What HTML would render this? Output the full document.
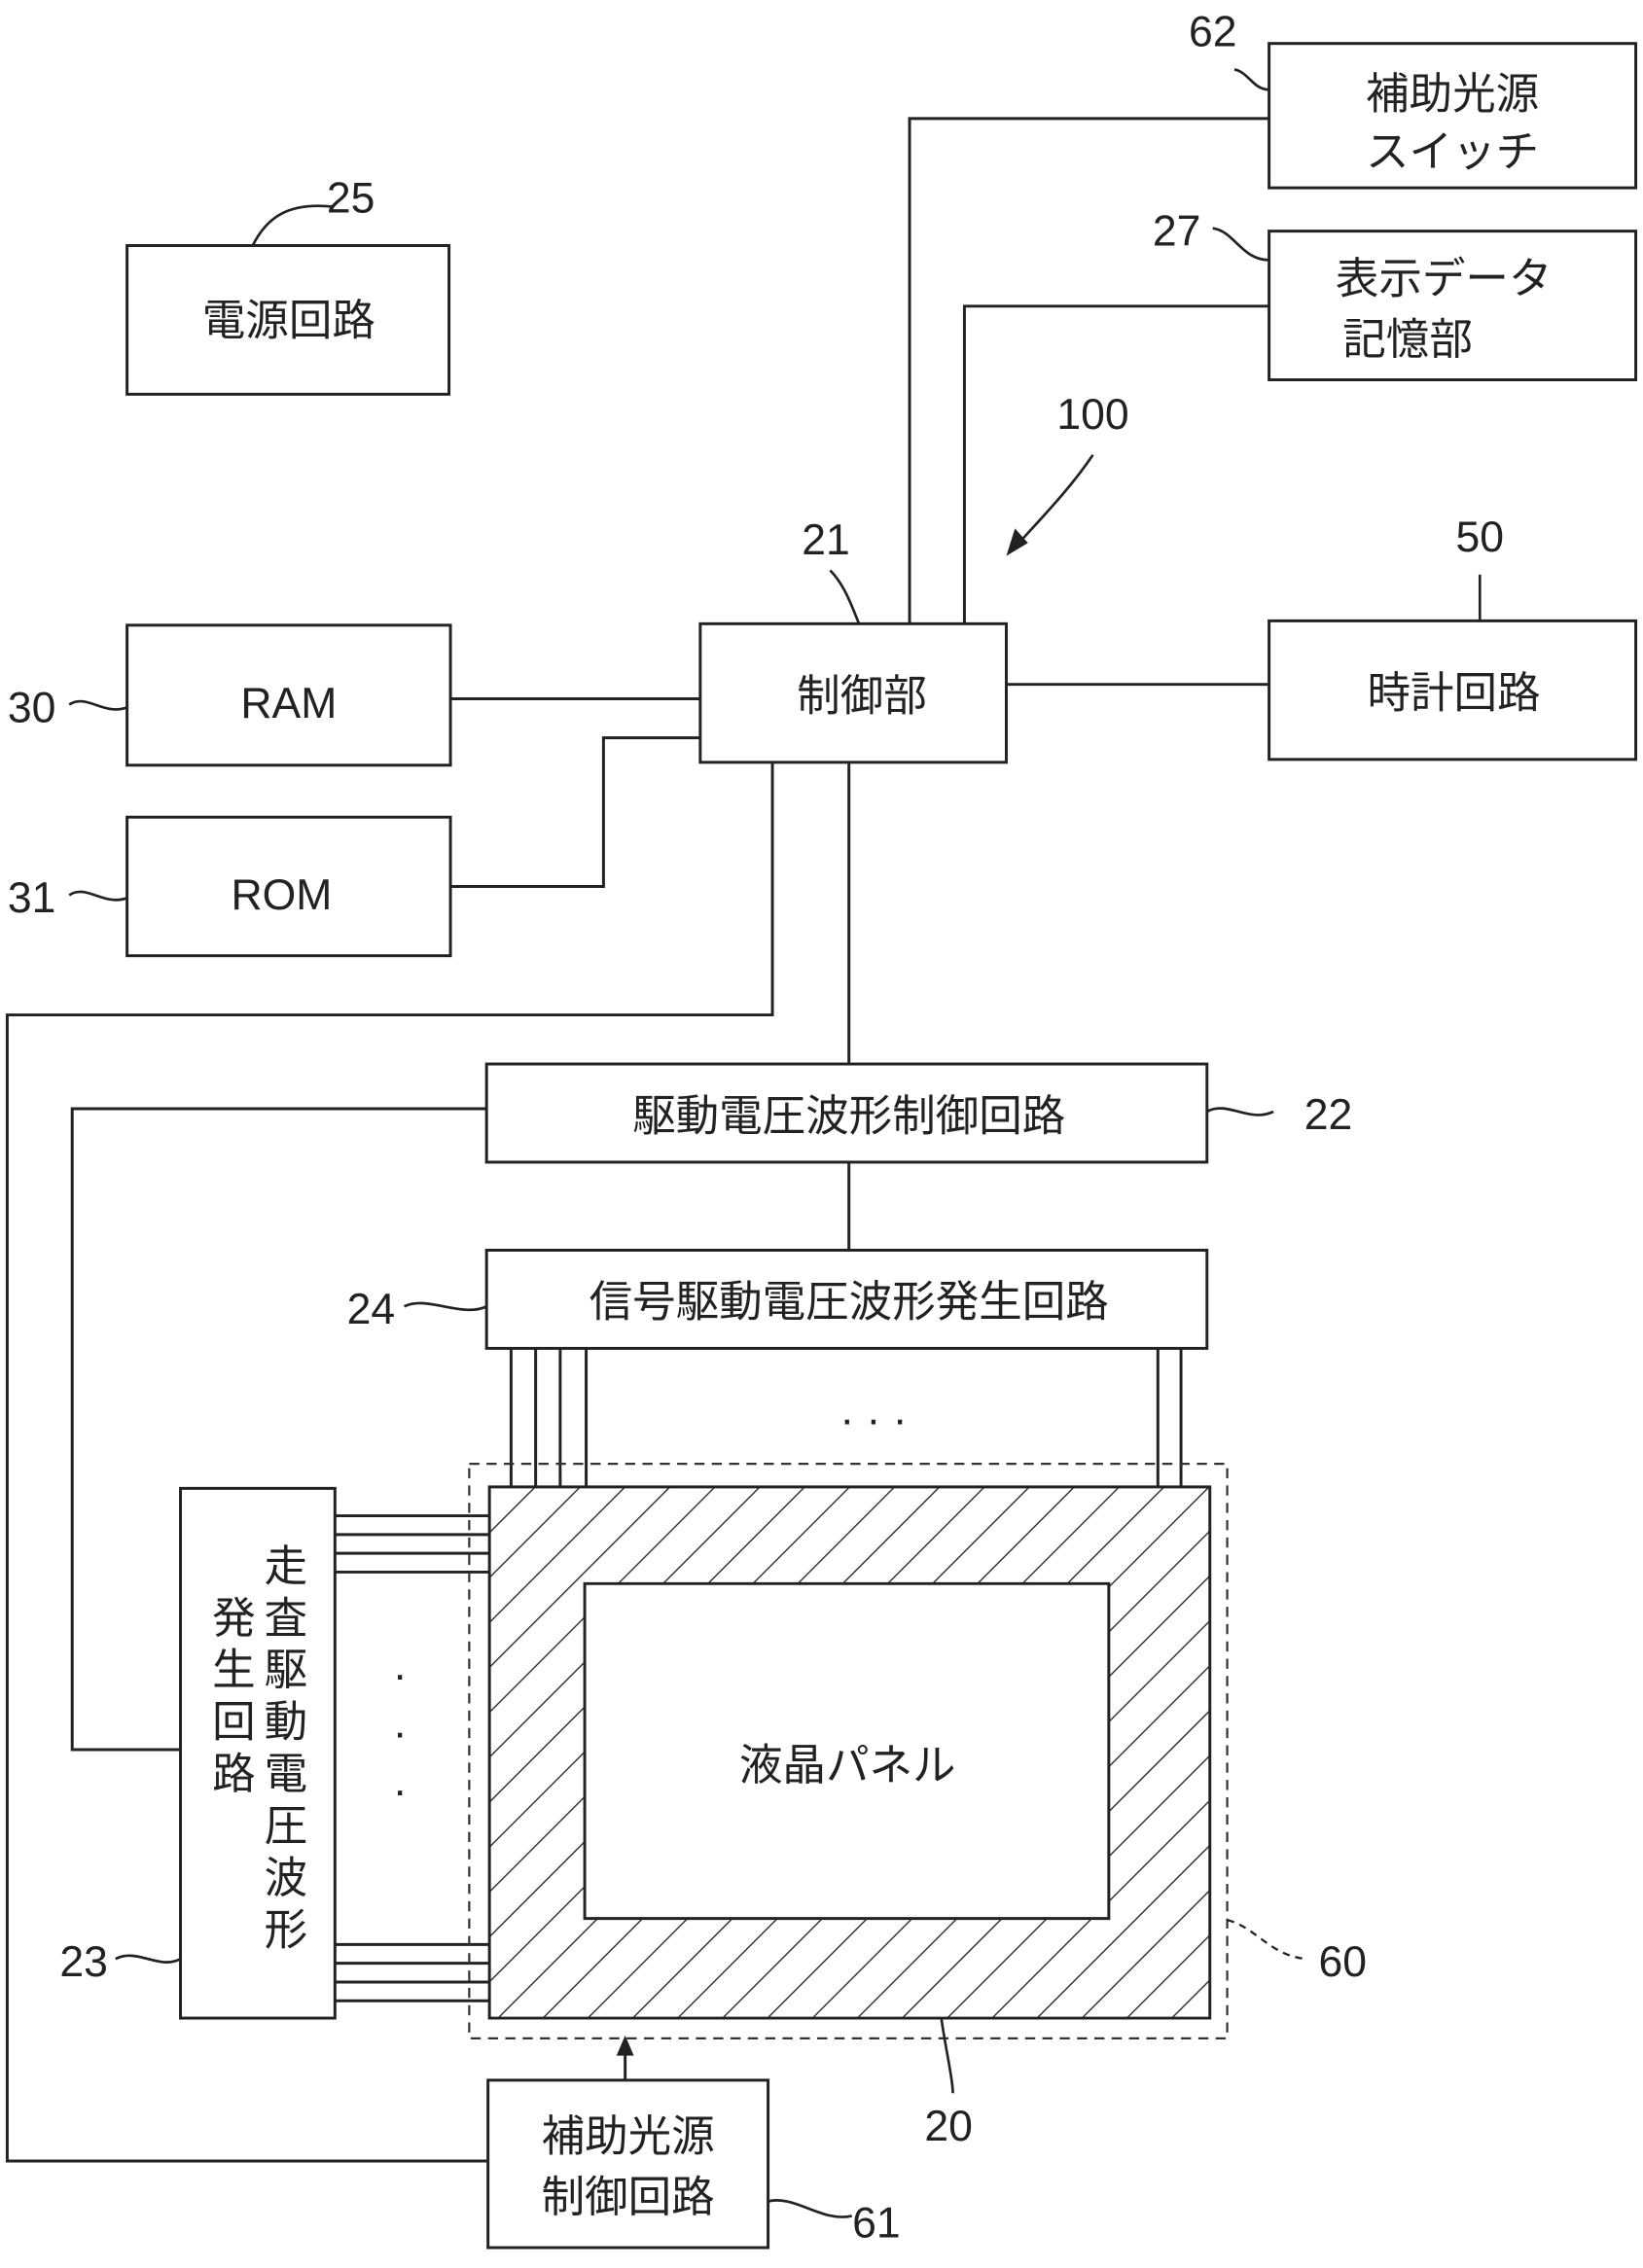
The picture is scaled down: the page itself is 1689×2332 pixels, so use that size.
<!DOCTYPE html>
<html><head><meta charset="utf-8"><style>
html,body{margin:0;padding:0;background:#fff}
svg{display:block}
text{font-family:"Liberation Sans","Noto Sans CJK JP",sans-serif;fill:#222}
</style></head><body>
<svg width="1689" height="2332" viewBox="0 0 1138 1571" xmlns="http://www.w3.org/2000/svg">
<defs>
<pattern id="h" patternUnits="userSpaceOnUse" width="22" height="22" patternTransform="rotate(45)">
<line x1="0" y1="0" x2="0" y2="22" stroke="#222" stroke-width="1.8"/>
</pattern>
</defs>
<g fill="none" stroke="#222" stroke-width="2">
<rect x="879" y="30" width="254" height="100"/>
<rect x="879" y="160" width="254" height="103"/>
<rect x="88" y="170" width="223" height="103"/>
<rect x="88" y="433" width="224" height="97"/>
<rect x="88" y="566" width="224" height="96"/>
<rect x="485" y="432" width="212" height="96"/>
<rect x="879" y="430" width="254" height="96"/>
<rect x="337" y="737" width="499" height="68"/>
<rect x="337" y="866" width="499" height="68"/>
<rect x="125" y="1031" width="107" height="367"/>
<rect x="338" y="1441" width="194" height="116"/>
<path d="M879 82H630V432M879 212H668V432M312 484H485M312 614H418V511H485M535 528V703H5V1497H338M588 528V737M588 805V866M697 474H879M337 768H50V1212H125"/>
<path d="M354 934V1030M371 934V1030M388 934V1030M406 934V1030M802 934V1030M818 934V1030"/>
<path d="M232 1050H339M232 1063H339M232 1076H339M232 1089H339M232 1347H339M232 1360H339M232 1373H339M232 1386H339"/>
<path d="M433 1441V1418"/>
</g>
<path d="M339 1030H838V1398H339Z M405 1097V1329H768V1097Z" fill="url(#h)" fill-rule="evenodd" stroke="#222" stroke-width="2"/>
<rect x="325" y="1014" width="525" height="398" fill="none" stroke="#333" stroke-width="1.5" stroke-dasharray="7,5"/>
<path d="M427 1424L433 1410L439 1424Z" fill="#222"/>
<g fill="none" stroke="#222" stroke-width="1.8">
<path d="M855 48C865 50 868 62 879 62"/>
<path d="M840 158C855 160 860 180 879 180"/>
<path d="M175 170C185 150 200 140 230 143"/>
<path d="M757 315C740 340 720 360 704 378"/>
<path d="M575 395C585 405 590 420 595 432"/>
<path d="M1025 398V430"/>
<path d="M48 488C60 480 72 496 88 490"/>
<path d="M48 620C60 612 72 628 88 622"/>
<path d="M836 770C850 762 865 778 882 770"/>
<path d="M280 905C295 897 320 913 337 905"/>
<path d="M80 1357C95 1349 110 1365 125 1357"/>
<path d="M652 1398C655 1420 660 1440 660 1450"/>
<path d="M532 1525C550 1520 570 1540 590 1535"/>
</g>
<path d="M850 1330C870 1335 880 1355 905 1357" fill="none" stroke="#222" stroke-width="1.5" stroke-dasharray="5,4"/>
<path d="M697 385L703 366L712 376Z" fill="#222"/>
<g font-size="30" text-anchor="middle">
<text x="1006" y="75">補助光源</text>
<text x="1006" y="115">スイッチ</text>
<text x="1000" y="203">表示データ</text>
<text x="975" y="245">記憶部</text>
<text x="200" y="232">電源回路</text>
<text x="200" y="497">RAM</text>
<text x="195" y="630">ROM</text>
<text x="597" y="492">制御部</text>
<text x="1007" y="490">時計回路</text>
<text x="588" y="783">駆動電圧波形制御回路</text>
<text x="588" y="912">信号駆動電圧波形発生回路</text>
<text x="587" y="1233">液晶パネル</text>
<text x="435" y="1490">補助光源</text>
<text x="435" y="1532">制御回路</text>
<text x="605" y="993">· · ·</text>
<text x="277" y="1170">·</text>
<text x="277" y="1210">·</text>
<text x="277" y="1250">·</text>
</g>
<g font-size="30" text-anchor="middle">
<text x="198" y="1095">走</text><text x="198" y="1131">査</text><text x="198" y="1167">駆</text><text x="198" y="1203">動</text><text x="198" y="1239">電</text><text x="198" y="1275">圧</text><text x="198" y="1311">波</text><text x="198" y="1347">形</text>
<text x="162" y="1131">発</text><text x="162" y="1167">生</text><text x="162" y="1203">回</text><text x="162" y="1239">路</text>
</g>
<g font-size="30" text-anchor="middle">
<text x="840" y="32">62</text>
<text x="815" y="170">27</text>
<text x="243" y="147">25</text>
<text x="757" y="297">100</text>
<text x="572" y="384">21</text>
<text x="1025" y="382">50</text>
<text x="22" y="500">30</text>
<text x="22" y="632">31</text>
<text x="920" y="782">22</text>
<text x="257" y="917">24</text>
<text x="58" y="1369">23</text>
<text x="930" y="1369">60</text>
<text x="657" y="1483">20</text>
<text x="607" y="1550">61</text>
</g>
</svg>
</body></html>
